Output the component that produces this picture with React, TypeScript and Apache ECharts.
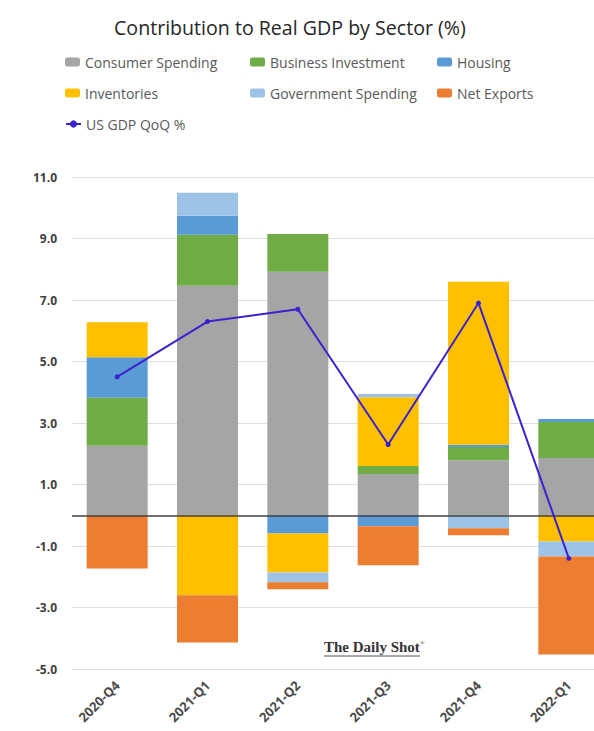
import React, { useEffect, useRef } from "react";
import * as echarts from "echarts";

const categories = ["2020-Q4", "2021-Q1", "2021-Q2", "2021-Q3", "2021-Q4", "2022-Q1"];
const consumerSpending = [2.26, 7.46, 7.92, 1.34, 1.79, 1.86];
const businessInvestment = [1.56, 1.66, 1.23, 0.26, 0.43, 1.17];
const housing = [1.32, 0.62, -0.59, -0.36, 0.07, 0.1];
const inventories = [1.14, -2.6, -1.27, 2.24, 5.3, -0.85];
const governmentSpending = [0, 0.75, -0.32, 0.1, -0.42, -0.49];
const netExports = [-1.73, -1.54, -0.23, -1.27, -0.23, -3.19];
const usGdpQoQ = [4.5, 6.3, 6.7, 2.3, 6.9, -1.4];

const yMin = -5;
const yMax = 11;
const yInterval = 2;

const FONT = "'Open Sans', 'Noto Sans', sans-serif";

export default function App() {
  const ref = useRef<HTMLDivElement>(null);
  useEffect(() => {
    if (!ref.current) return;
    const chart = echarts.init(ref.current, null, { renderer: "svg" });
    const barSeries = [
      { name: "Consumer Spending", data: consumerSpending, color: "#a5a5a5" },
      { name: "Business Investment", data: businessInvestment, color: "#70ad47" },
      { name: "Housing", data: housing, color: "#5b9bd5" },
      { name: "Inventories", data: inventories, color: "#ffc000" },
      { name: "Government Spending", data: governmentSpending, color: "#9dc3e6" },
      { name: "Net Exports", data: netExports, color: "#ed7d31" },
    ];
    const legendPos = [
      { left: 65, top: 55 },
      { left: 250, top: 55 },
      { left: 437, top: 55 },
      { left: 65, top: 86 },
      { left: 250, top: 86 },
      { left: 437, top: 86 },
      { left: 65, top: 117 },
    ];
    const names = [...barSeries.map((s) => s.name), "US GDP QoQ %"];
    const lineColor = "#3a22d0";
    chart.setOption({
      animation: false,
      textStyle: { fontFamily: FONT },
      title: {
        text: "Contribution to Real GDP by Sector (%)",
        left: 114,
        top: 17,
        padding: 0,
        textStyle: { fontFamily: FONT, fontSize: 19.6, fontWeight: "normal", color: "#262626" },
      },
      legend: names.map((n, i) => ({
        data: [n],
        left: legendPos[i].left,
        top: legendPos[i].top,
        padding: 0,
        itemWidth: 15,
        itemHeight: 9,
        selectedMode: false,
        textStyle: { fontFamily: FONT, fontSize: 14, color: "#595959" },
      })),
      grid: {
        left: 72,
        right: -20,
        top: 177,
        bottom: 62,
        containLabel: false,
        outerBoundsMode: "none",
      },
      xAxis: {
        type: "category",
        data: categories,
        axisLine: { show: false, onZero: false },
        axisTick: { show: false },
        axisLabel: {
          rotate: 45,
          margin: 14,
          fontSize: 13,
          fontWeight: "bold",
          color: "#4a4a4a",
          fontFamily: FONT,
        },
        splitLine: { show: false },
      },
      yAxis: {
        type: "value",
        min: yMin,
        max: yMax,
        interval: yInterval,
        axisLine: { show: false },
        axisTick: { show: false },
        axisLabel: {
          formatter: (v: number) => v.toFixed(1),
          fontSize: 12,
          fontWeight: "bold",
          color: "#404040",
          margin: 15,
          fontFamily: FONT,
        },
        splitLine: { lineStyle: { color: "#dedede", width: 1 } },
      },
      series: [
        ...barSeries.map((s, i) => ({
          type: "bar",
          name: s.name,
          stack: "gdp",
          data: s.data,
          barWidth: 61,
          itemStyle: { color: s.color },
          ...(i === 0
            ? {
                markLine: {
                  silent: true,
                  symbol: "none",
                  label: { show: false },
                  lineStyle: { color: "#3f3f3f", width: 1.5, type: "solid" },
                  data: [{ yAxis: 0 }],
                  z: 5,
                },
              }
            : {}),
        })),
        {
          type: "line",
          name: "US GDP QoQ %",
          data: usGdpQoQ,
          symbol: "circle",
          symbolSize: 5,
          z: 10,
          lineStyle: { color: lineColor, width: 2 },
          itemStyle: { color: lineColor },
        },
      ],
      graphic: [
        {
          type: "text",
          left: 324,
          top: 639,
          style: {
            text: "The Daily Shot",
            font: "bold 15px 'Liberation Serif', 'DejaVu Serif', serif",
            fill: "#333333",
          },
        },
        {
          type: "text",
          left: 420,
          top: 640,
          style: {
            text: "®",
            font: "6px 'Liberation Serif', serif",
            fill: "#333333",
          },
        },
        {
          type: "line",
          shape: { x1: 324, y1: 656, x2: 420, y2: 656 },
          style: { stroke: "#555555", lineWidth: 1 },
        },
      ],
    });
    return () => chart.dispose();
  }, []);
  return (
    <div
      ref={ref}
      style={{ position: "fixed", left: 0, top: 0, width: 594, height: 731, background: "#ffffff" }}
    />
  );
}
